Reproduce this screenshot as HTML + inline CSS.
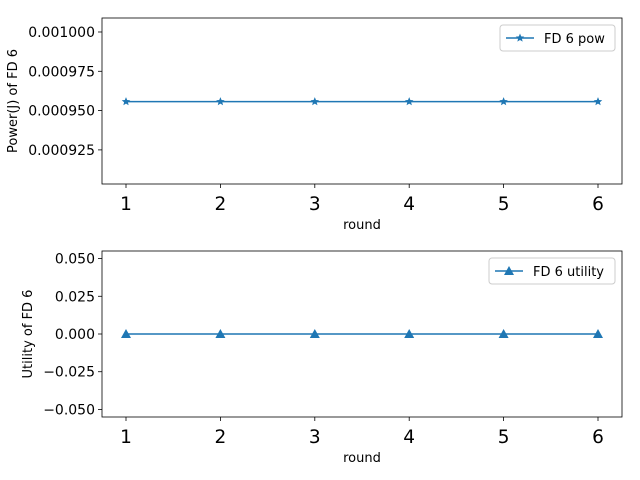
<!DOCTYPE html>
<html><head><meta charset="utf-8"><style>
body{margin:0;background:#fff;}
svg{display:block;font-family:"DejaVu Sans","Liberation Sans",sans-serif;}
</style></head><body>
<svg id="chart" width="640" height="480"></svg>
<script>
const rounds = [1,2,3,4,5,6];
const powerValues = [0.0009557,0.0009557,0.0009557,0.0009557,0.0009557,0.0009557];
const utilityValues = [0,0,0,0,0,0];
const powerTicks = [0.000925,0.00095,0.000975,0.001];
const powerTickLabels = ["0.000925","0.000950","0.000975","0.001000"];
const utilTicks = [-0.05,-0.025,0,0.025,0.05];
const utilTickLabels = ["\u22120.050","\u22120.025","0.000","0.025","0.050"];

const NS="http://www.w3.org/2000/svg";
const svg=document.getElementById('chart');
function mk(tag,attrs,parent){const e=document.createElementNS(NS,tag);for(const k in attrs)e.setAttribute(k,attrs[k]);(parent||svg).appendChild(e);return e;}

function panel(cfg){
  const L=102,R=622,T=cfg.top,B=cfg.bottom;
  const g=mk('g',{});
  
  
  const xs=v=>126+(v-1)*(598-126)/5;
  const ys=v=>B-(v-cfg.ymin)/(cfg.ymax-cfg.ymin)*(B-T);
  rounds.forEach(r=>{
    const x=xs(r);
    mk('line',{x1:x,x2:x,y1:B,y2:B+4,stroke:'#000','stroke-width':0.8},g);
    const t=mk('text',{x:x,y:B+26,'text-anchor':'middle','font-size':18.5,fill:'#000'},g);
    t.textContent=r;
    
    
  });
  cfg.ticks.forEach((v,i)=>{
    const y=ys(v);
    mk('line',{x1:L-4,x2:L,y1:y,y2:y,stroke:'#000','stroke-width':0.8},g);
    const t=mk('text',{x:L-7,y:y+5,'text-anchor':'end','font-size':14,fill:'#000'},g);
    t.textContent=cfg.labels[i];
    
    
  });
  const xl=mk('text',{x:(L+R)/2,y:B+45,'text-anchor':'middle','font-size':13,fill:'#000'},g);
  xl.textContent='round';
  
  
  const yl=mk('text',{x:0,y:0,'text-anchor':'middle','font-size':13,fill:'#000',transform:`translate(${cfg.ylx},${(T+B)/2}) rotate(-90)`},g);
  yl.textContent=cfg.ytitle;
  
  
  const pts=rounds.map((r,i)=>xs(r)+','+ys(cfg.values[i])).join(' ');
  const line=mk('polyline',{points:pts,fill:'none',stroke:'#1f77b4','stroke-width':1.5},g);
  
  
  rounds.forEach((r,i)=>{
    const m=cfg.marker(xs(r),ys(cfg.values[i]),g);
    
    
  });
  mk('rect',{x:L,y:T,width:R-L,height:B-T,fill:'none',stroke:'#000','stroke-width':0.8},g);
  const lg=mk('g',{},g);
  
  
  mk('rect',{x:cfg.lx,y:T+7,width:615-cfg.lx,height:26,rx:3,fill:'#fff',stroke:'#ccc','stroke-width':1},lg);
  mk('line',{x1:cfg.lx+6,x2:cfg.lx+34,y1:T+20,y2:T+20,stroke:'#1f77b4','stroke-width':1.5},lg);
  cfg.marker(cfg.lx+20,T+20,lg);
  const lt=mk('text',{x:cfg.lx+44,y:T+25,'font-size':13,fill:'#000'},lg);
  lt.textContent=cfg.legend;
}
function star(x,y,p){
  let d='';for(let i=0;i<10;i++){const a=-Math.PI/2+i*Math.PI/5;const r=i%2?2:4.5;d+=(i?'L':'M')+(x+r*Math.cos(a))+','+(y+r*Math.sin(a));}
  return mk('path',{d:d+'Z',fill:'#1f77b4'},p);
}
function tri(x,y,p){return mk('path',{d:`M${x},${y-5}L${x+5},${y+4}L${x-5},${y+4}Z`,fill:'#1f77b4'},p);}

panel({name:'power-panel',top:18,bottom:184,ymin:0.0009033,ymax:0.0010089,ticks:powerTicks,labels:powerTickLabels,values:powerValues,ytitle:'Power(J) of FD 6',ylx:17,marker:star,legend:'FD 6 pow',lx:500});
panel({name:'utility-panel',top:251,bottom:417,ymin:-0.055,ymax:0.055,ticks:utilTicks,labels:utilTickLabels,values:utilityValues,ytitle:'Utility of FD 6',ylx:32,marker:tri,legend:'FD 6 utility',lx:489});
</script>
</body></html>
